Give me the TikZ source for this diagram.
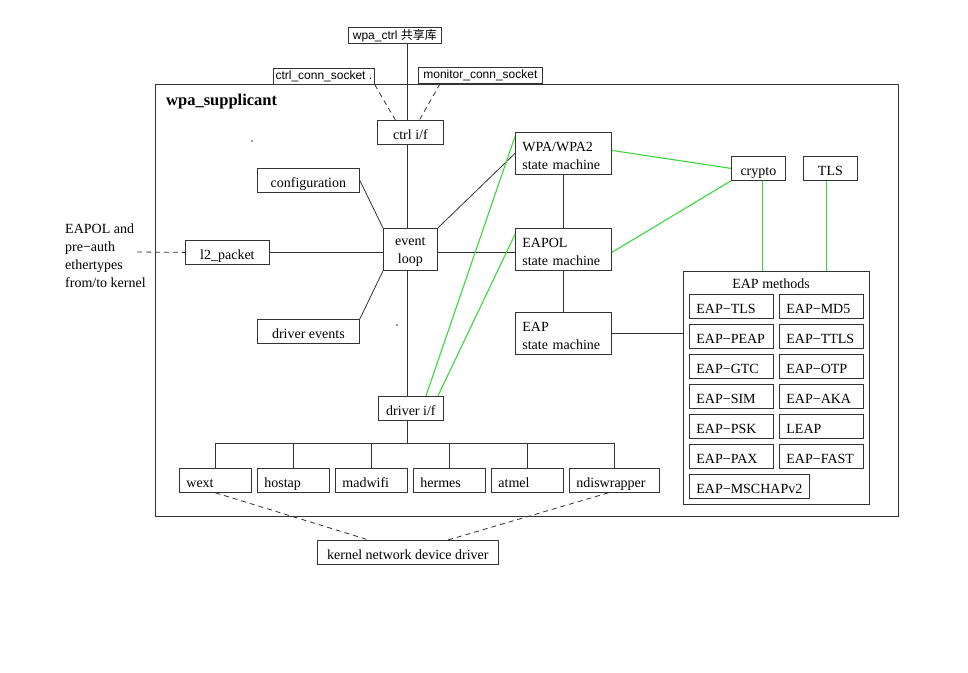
\documentclass[tikz,border=0pt]{standalone}
\usepackage{fontspec}
\setmainfont{Liberation Serif}
\newfontfamily\sansf{Liberation Sans}
\newfontfamily\cjk{Noto Sans CJK SC}
\definecolor{ln}{RGB}{50,50,50}
\definecolor{gr}{RGB}{60,215,60}
\newcommand{\topstrut}{\rule{0pt}{14pt}}
\begin{document}
\begin{tikzpicture}[x=1pt,y=-1pt,
 every node/.style={font=\fontsize{14}{18}\selectfont},
 box/.style={draw=ln, line width=0.8pt, anchor=north west, inner xsep=7pt, inner ysep=0pt, minimum height=24pt, align=left, text height=14.5pt, text depth=0.5pt},
 mbox/.style={draw=ln, line width=0.8pt, anchor=north west, inner xsep=7pt, inner ysep=0pt, minimum height=42pt, align=left},
 cbox/.style={draw=ln, line width=0.8pt, anchor=north west, inner sep=0pt, minimum height=24pt, align=center, text height=14.5pt, text depth=0.5pt},
 sbox/.style={draw=ln, line width=0.8pt, anchor=north west, inner sep=0pt, minimum height=16pt, font=\sansf\fontsize{12}{14}\selectfont},
 conn/.style={draw=ln, line width=0.8pt},
 gconn/.style={draw=gr, line width=1.1pt},
 dconn/.style={conn, dash pattern=on 5pt off 4pt},
 dotmark/.style={circle, fill=ln, inner sep=0pt, minimum size=1.8pt}]

\useasboundingbox (0,0) rectangle (968,672);

% top labels
\node[sbox, minimum width=93pt] (lib) at (348,27) {wpa\_ctrl {\cjk 共享库}};
\node[sbox, minimum width=101pt] (ccs) at (273,68) {ctrl\_conn\_socket .};
\node[sbox, minimum width=124pt] (mcs) at (418,67) {monitor\_conn\_socket};

% main frame
\node[draw=ln, line width=0.8pt, anchor=north west, minimum width=743pt, minimum height=432pt, inner sep=0pt] (sup) at (155,84) {};
\node[anchor=west, font=\bfseries\fontsize{16.5}{18}\selectfont, inner sep=0pt] (supl) at (166,102) {wpa\_supplicant};

\node[dotmark] (d1) at (252,141) {};
\node[dotmark] (d2) at (397,325) {};

% core boxes
\node[cbox, minimum width=66pt] (ctrl) at (377,120) {ctrl i/f};
\node[mbox, text width=82pt] (wpa) at (515,132) {\topstrut WPA/WPA2\\state machine};
\node[cbox, minimum width=54pt] (crypto) at (731,156) {crypto};
\node[cbox, minimum width=54pt] (tls) at (803,156) {TLS};
\node[cbox, minimum width=102pt] (conf) at (257,168) {configuration};
\node[cbox, minimum width=84pt] (l2) at (185,240) {l2\_packet};
\node[mbox, inner xsep=0pt, minimum width=54pt, align=center] (ev) at (383,228) {\topstrut event\\loop};
\node[mbox, text width=82pt] (eapol) at (515,228) {\topstrut EAPOL\\state machine};
\node[cbox, minimum width=102pt] (drvev) at (257,319) {driver events};
\node[mbox, text width=82pt] (eap) at (515,312) {\topstrut EAP\\state machine};
\node[cbox, minimum width=65pt] (drv) at (378,396) {driver i/f};

% EAPOL text
\node[anchor=north west, inner sep=0pt, align=left] (ext) at (65,224) {EAPOL and\\pre−auth\\ethertypes\\from/to kernel};
\coordinate (extend) at (137,252);

% drivers
\node[box, text width=58pt] (wext) at (179,468) {wext};
\node[box, text width=58pt] (hostap) at (257,468) {hostap};
\node[box, text width=58pt] (madwifi) at (335,468) {madwifi};
\node[box, text width=58pt] (hermes) at (413,468) {hermes};
\node[box, text width=58pt] (atmel) at (491,468) {atmel};
\node[box, text width=76pt] (ndis) at (569,468) {ndiswrapper};
\node[cbox, minimum width=181pt] (kern) at (317,540) {kernel network device driver};

% EAP methods
\node[draw=ln, line width=0.8pt, anchor=north west, minimum width=186pt, minimum height=233pt, inner sep=0pt] (eapm) at (683,271) {};
\node (eapmt) at (771,284) {EAP methods};
\node[box, text width=70pt] (m1) at (689,294) {EAP−TLS};
\node[box, text width=70pt] (m2) at (779,294) {EAP−MD5};
\node[box, text width=70pt] (m3) at (689,324) {EAP−PEAP};
\node[box, text width=70pt] (m4) at (779,324) {EAP−TTLS};
\node[box, text width=70pt] (m5) at (689,354) {EAP−GTC};
\node[box, text width=70pt] (m6) at (779,354) {EAP−OTP};
\node[box, text width=70pt] (m7) at (689,384) {EAP−SIM};
\node[box, text width=70pt] (m8) at (779,384) {EAP−AKA};
\node[box, text width=70pt] (m9) at (689,414) {EAP−PSK};
\node[box, text width=70pt] (m10) at (779,414) {LEAP};
\node[box, text width=70pt] (m11) at (689,444) {EAP−PAX};
\node[box, text width=70pt] (m12) at (779,444) {EAP−FAST};
\node[box, text width=106pt] (m13) at (689,474) {EAP−MSCHAPv2};

% connectors
\coordinate (ax) at (407,0);
\coordinate (ly) at (0,252);
\coordinate (bus) at (0,443);
\draw[conn] (lib.south -| ax) -- (ctrl.north -| ax);
\draw[dconn] (ccs.south east) -- ([xshift=-15pt]ctrl.north);
\draw[dconn] ([xshift=22pt]mcs.south west) -- ([xshift=9pt]ctrl.north);
\draw[conn] (ctrl.south -| ax) -- (ev.north -| ax);
\draw[conn] (conf.east) -- (ev.north west);
\draw[conn] (drvev.north east) -- (ev.south west);
\draw[conn] (ev.north east) -- (wpa.west);
\draw[conn] (l2.east |- ly) -- (ev.west |- ly);
\draw[conn] (ev.east |- ly) -- (eapol.west |- ly);
\draw[dconn] (extend) -- (l2.west);
\draw[conn] (wpa.south) -- (eapol.north);
\draw[conn] (eapol.south) -- (eap.north);
\draw[conn] (eap.east) -- (eapm.west |- eap.east);
\draw[conn] (ev.south -| ax) -- (drv.north -| ax);
\draw[gconn] ([yshift=17pt]wpa.west) -- ([xshift=15pt]drv.north);
\draw[gconn] ([yshift=15pt]eapol.west) -- ([xshift=27pt]drv.north);
\draw[gconn] ([yshift=3pt]wpa.east) -- (crypto.west);
\draw[gconn] ([yshift=-3pt]eapol.east) -- (crypto.south west);
\draw[gconn] ([xshift=4pt]crypto.south) -- ([xshift=4pt]crypto.south |- eapm.north);
\draw[gconn] ([xshift=-3.5pt]tls.south) -- ([xshift=-3.5pt]tls.south |- eapm.north);

\draw[conn] (drv.south -| ax) -- (bus -| ax);
\draw[conn] (wext.north |- bus) -- (ndis.north |- bus);
\foreach \n in {wext,hostap,madwifi,hermes,atmel,ndis}
  \draw[conn] (\n.north |- bus) -- (\n.north);
\draw[dconn] (wext.south) -- ([xshift=-39pt]kern.north);
\draw[dconn] ([xshift=-6pt]ndis.south) -- ([xshift=40pt]kern.north);
\end{tikzpicture}
\end{document}
